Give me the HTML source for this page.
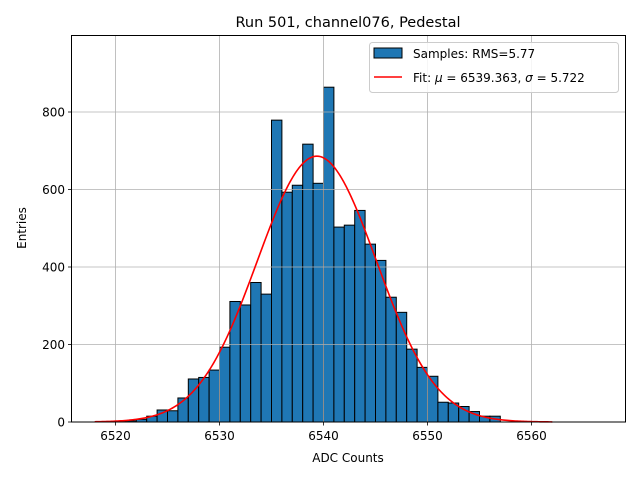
<!DOCTYPE html>
<html><head><meta charset="utf-8"><style>
body{margin:0;background:#fff}
svg{display:block;font-family:"DejaVu Sans","Liberation Sans",sans-serif}
</style></head><body>
<svg id="chart" width="640" height="480" viewBox="0 0 640 480" xmlns="http://www.w3.org/2000/svg">
<rect width="640" height="480" fill="#fff"/>
<g id="bars"></g>
<g id="grid"></g>
<path id="fit" fill="none" stroke="#ff0000" stroke-width="1.6"/>
<rect x="71.5" y="35.5" width="554" height="386.5" fill="none" stroke="#000" stroke-width="1"/>
<g id="ticks"></g>
<text x="348" y="27" font-size="14.5" text-anchor="middle">Run 501, channel076, Pedestal</text>
<text x="348" y="462" font-size="12" text-anchor="middle">ADC Counts</text>
<text transform="translate(26,228) rotate(-90)" font-size="12" text-anchor="middle">Entries</text>
<g>
<rect x="369.5" y="42.5" width="249" height="50" rx="3" fill="#fff" fill-opacity="0.85" stroke="#ccc"/>
<rect x="374" y="48" width="28" height="10" fill="#1f77b4" stroke="#000" stroke-width="1"/>
<text x="413" y="58" font-size="12">Samples: RMS=5.77</text>
<line x1="374" y1="77" x2="402" y2="77" stroke="#ff0000" stroke-width="1.6"/>
<text x="413" y="82" font-size="12">Fit: <tspan font-style="italic">μ</tspan> = 6539.363, <tspan font-style="italic">σ</tspan> = 5.722</text>
</g>
</svg>
<script>
const binStarts=[6519,6520,6521,6522,6523,6524,6525,6526,6527,6528,6529,6530,6531,6532,6533,6534,6535,6536,6537,6538,6539,6540,6541,6542,6543,6544,6545,6546,6547,6548,6549,6550,6551,6552,6553,6554,6555,6556];
const counts=[1,1,3,7,15,31,29,62,111,115,134,193,311,302,360,330,779,593,611,717,616,864,503,508,546,459,417,322,283,188,141,118,51,49,40,27,15,15];
const xTicks=[6520,6530,6540,6550,6560];
const yTicks=[0,200,400,600,800];
const fitMu=6539.363, fitSigma=5.722, fitAmp=686, fitMin=6518, fitMax=6562;
const NS="http://www.w3.org/2000/svg";
const X=v=>115.5+(v-6520)*10.4;
const Y=v=>422-v*0.3875;
const grid=document.getElementById('grid'),bars=document.getElementById('bars'),ticks=document.getElementById('ticks');
function mk(tag,attrs,parent){const e=document.createElementNS(NS,tag);for(const k in attrs)e.setAttribute(k,attrs[k]);parent.appendChild(e);return e;}
xTicks.forEach(t=>{
  const g=mk('line',{x1:X(t),x2:X(t),y1:35.5,y2:422,stroke:'#b0b0b0','stroke-width':0.8},grid);
  
  
  const tk=mk('line',{x1:X(t),x2:X(t),y1:422,y2:425.5,stroke:'#000','stroke-width':0.8},ticks);
  
  
  const tx=mk('text',{x:X(t),y:440,'font-size':12,'text-anchor':'middle'},ticks);
  tx.textContent=t;
  
  
});
yTicks.forEach(t=>{
  const g=mk('line',{x1:71.5,x2:625.5,y1:Y(t),y2:Y(t),stroke:'#b0b0b0','stroke-width':0.8},grid);
  
  
  const tk=mk('line',{x1:68,x2:71.5,y1:Y(t),y2:Y(t),stroke:'#000','stroke-width':0.8},ticks);
  
  
  const tx=mk('text',{x:65,y:Y(t)+4.5,'font-size':12,'text-anchor':'end'},ticks);
  tx.textContent=t;
  
  
});
binStarts.forEach((b,i)=>{
  const r=mk('rect',{x:X(b),y:Y(counts[i]),width:X(b+1)-X(b),height:Y(0)-Y(counts[i]),fill:'#1f77b4',stroke:'#000','stroke-width':1},bars);
  
  
});
let d='';
for(let i=0;i<=300;i++){const v=fitMin+(fitMax-fitMin)*i/300;const y=fitAmp*Math.exp(-0.5*((v-fitMu)/fitSigma)**2);d+=(i?'L':'M')+X(v).toFixed(2)+','+Y(y).toFixed(2);}
document.getElementById('fit').setAttribute('d',d);
</script>
</body></html>
